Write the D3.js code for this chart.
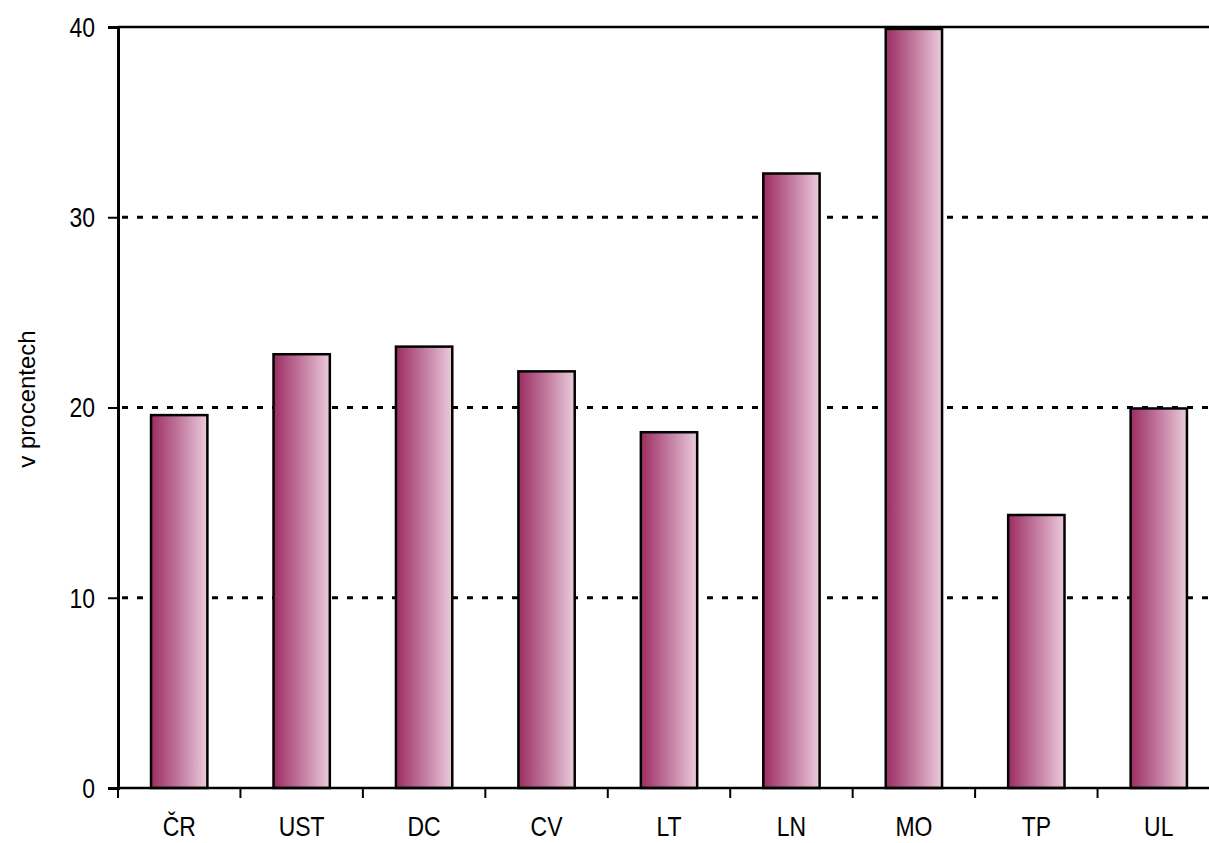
<!DOCTYPE html>
<html><head><meta charset="utf-8">
<script src="https://cdn.jsdelivr.net/npm/d3@7"></script>
<style>body{margin:0;background:#fff}svg{display:block}text{font-family:"Liberation Sans",Arial,sans-serif}</style>
</head><body><svg id="c" width="1209" height="843"></svg>
<script>
const categories = ["ČR","UST","DC","CV","LT","LN","MO","TP","UL"];
const values = [19.6, 22.8, 23.2, 21.9, 18.7, 32.3, 39.9, 14.35, 19.95];
const yTicks = [0,10,20,30,40];
const yLabel = "v procentech";

const svg = d3.select("#c");
const x0 = 118, x1 = 1220, yTop = 27, yBot = 788;
const x = d3.scaleBand().domain(categories).range([x0, x1]).paddingInner(0.54).paddingOuter(0.27);
const y = d3.scaleLinear().domain([0,40]).range([yBot, yTop]);
const narrow = 0.82;

const defs = svg.append("defs");
const g = defs.append("linearGradient").attr("id","bg").attr("x1","0").attr("x2","1").attr("y1","0").attr("y2","0");
g.append("stop").attr("offset","0").attr("stop-color","#9c2d62");
g.append("stop").attr("offset","0.5").attr("stop-color","#c27a9f");
g.append("stop").attr("offset","1").attr("stop-color","#ebcbdb");

// gridlines
svg.append("g").selectAll("line").data(yTicks.filter(d=>d>0 && d<40)).join("line")
  .attr("x1", x0+4).attr("x2", 1209).attr("y1", d=>y(d)).attr("y2", d=>y(d))
  .attr("stroke","#000").attr("stroke-width",3).attr("stroke-dasharray","6,9");
svg.append("line").attr("x1",x0).attr("x2",1209).attr("y1",y(40)).attr("y2",y(40))
  .attr("stroke","#000").attr("stroke-width",2.5);

// bars
svg.append("g").selectAll("rect").data(values).join("rect")
  .attr("x",(d,i)=>x(categories[i])).attr("width",x.bandwidth())
  .attr("y",d=>y(d)).attr("height",d=>y(0)-y(d))
  .attr("fill","url(#bg)").attr("stroke","#000").attr("stroke-width",2.5);

// y axis
const ya = svg.append("g").attr("transform",`translate(${x0},0)`)
  .call(d3.axisLeft(y).tickValues(yTicks).tickSize(10).tickFormat(""));
ya.select(".domain").attr("stroke","#000").attr("stroke-width",3);
ya.selectAll(".tick line").attr("stroke","#000").attr("stroke-width",2);
svg.append("g").selectAll("text").data(yTicks).join("text")
  .attr("transform",d=>`translate(95,${y(d)}) scale(${narrow},1)`)
  .attr("dy","0.35em").attr("text-anchor","end").attr("font-size",28).attr("fill","#000")
  .text(d=>d3.format("d")(d));

// x axis
const xa = svg.append("g").attr("transform",`translate(0,${yBot})`);
xa.append("line").attr("x1",x0).attr("x2",1209).attr("y1",0).attr("y2",0).attr("stroke","#000").attr("stroke-width",2.5);
const tickPos = d3.range(categories.length+1).map(i=>x0 + i*(x1-x0)/categories.length);
xa.selectAll(".xt").data(tickPos.filter(p=>p<1209)).join("line").attr("class","xt")
  .attr("x1",d=>d).attr("x2",d=>d).attr("y1",0).attr("y2",10).attr("stroke","#000").attr("stroke-width",2);
xa.selectAll("text").data(categories).join("text")
  .attr("transform",d=>`translate(${x(d)+x.bandwidth()/2},48) scale(${narrow},1)`)
  .attr("text-anchor","middle")
  .attr("font-size",28).attr("fill","#000").text(d=>d);

svg.append("text").attr("transform","translate(35,399) rotate(-90)").attr("text-anchor","middle")
  .attr("font-size",24).attr("fill","#000").text(yLabel);
</script></body></html>
